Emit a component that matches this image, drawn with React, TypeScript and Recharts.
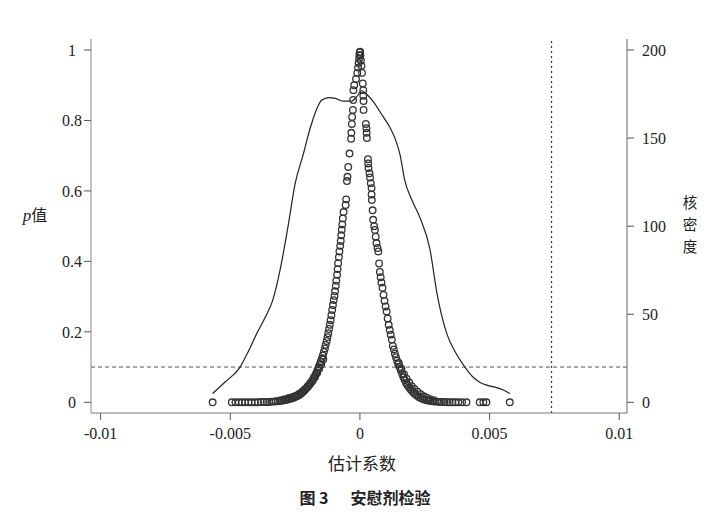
import React from "react";
import {
  ComposedChart,
  XAxis,
  YAxis,
  Scatter,
  Line,
  ReferenceLine,
} from "recharts";

// ---- data ----
const coefficients = [
  // left branch
  -0.00568, -0.00494, -0.0048, -0.00467, -0.00455, -0.00443, -0.0043, -0.00418, -0.00405, -0.00393,
  -0.00382, -0.00371, -0.0036, -0.0035, -0.00341, -0.00332, -0.00324, -0.00316, -0.00308, -0.003,
  -0.00293, -0.00285, -0.00278, -0.0027, -0.00263, -0.00256, -0.0025, -0.00244, -0.00238, -0.00232,
  -0.00226, -0.0022, -0.00215, -0.0021, -0.00205, -0.002, -0.00195, -0.0019, -0.00185, -0.0018,
  -0.00176, -0.00171, -0.00167, -0.00163, -0.00159, -0.00155, -0.00151, -0.00147, -0.00143, -0.00139,
  -0.00135, -0.00132, -0.00128, -0.00125, -0.00122, -0.00119, -0.00116, -0.00113, -0.0011, -0.00107,
  -0.00104, -0.00101, -0.00098, -0.00096, -0.00093, -0.00091, -0.00088, -0.00086, -0.00084, -0.00081,
  -0.00079, -0.00076, -0.00074, -0.00072, -0.0007, -0.00068, -0.00066, -0.00063, -0.00055, -0.00053,
  -0.0005, -0.00048, -0.00045, -0.0004, -0.00034, -0.00033, -0.00031, -0.0003, -0.00027, -0.00026,
  -0.00025, -0.00022, -0.00015, -0.0001, -0.00007, -0.00005, -0.00003, -0.00002, -0.00001,
  // left branch, overlapping draws in the dense lower part
  -0.00304, -0.00289, -0.00274, -0.0026, -0.00247, -0.00235, -0.00223, -0.00212, -0.00202, -0.00192,
  -0.00182, -0.00173, -0.00165, -0.00157, -0.00149, -0.00141,
  // right branch
  0.00001, 0.00002, 0.00004, 0.00006, 0.00008, 0.00011, 0.00013, 0.00013, 0.00014, 0.00014,
  0.00023, 0.00025, 0.00026, 0.00027, 0.00031, 0.00032, 0.00033, 0.00037, 0.00039, 0.00042,
  0.00045, 0.00045, 0.00046, 0.00049, 0.00051, 0.00055, 0.00058, 0.00061, 0.00064, 0.00068,
  0.00071, 0.00074, 0.00077, 0.0008, 0.00083, 0.00087, 0.00091, 0.00095, 0.00099, 0.00103,
  0.00107, 0.00111, 0.00115, 0.00119, 0.00123, 0.00127, 0.00131, 0.00135, 0.00139, 0.00143,
  0.00148, 0.00153, 0.00158, 0.00163, 0.00168, 0.00173, 0.00178, 0.00183, 0.00189, 0.00195,
  0.00201, 0.00207, 0.00213, 0.0022, 0.00227, 0.00234, 0.00241, 0.00248, 0.00256, 0.00264,
  0.00272, 0.0028, 0.00289, 0.00298, 0.00307, 0.00316, 0.00326, 0.00336, 0.00346, 0.00357,
  0.00368, 0.0038, 0.00394, 0.00411, 0.00462, 0.00476, 0.00488, 0.00578,
  // right branch, overlapping draws in the dense lower part
  0.0015, 0.0016, 0.0017, 0.0018, 0.0019, 0.002, 0.0021, 0.00222, 0.00234, 0.00246,
  0.00258, 0.0027, 0.00284,
];

const pValues = [
  // left branch
  0, 0, 0, 0, 0, 0, 0, 0, 0, 0,
  0.001, 0.001, 0.001, 0.001, 0.002, 0.002, 0.003, 0.003, 0.004, 0.005,
  0.006, 0.007, 0.008, 0.01, 0.011, 0.013, 0.015, 0.017, 0.019, 0.022,
  0.025, 0.029, 0.033, 0.037, 0.041, 0.045, 0.05, 0.055, 0.06, 0.066,
  0.072, 0.078, 0.085, 0.092, 0.1, 0.107, 0.115, 0.124, 0.133, 0.143,
  0.153, 0.163, 0.174, 0.185, 0.196, 0.208, 0.22, 0.233, 0.247, 0.262,
  0.276, 0.29, 0.302, 0.315, 0.331, 0.345, 0.362, 0.378, 0.395, 0.412,
  0.428, 0.444, 0.458, 0.474, 0.49, 0.505, 0.522, 0.54, 0.56, 0.576,
  0.628, 0.64, 0.668, 0.706, 0.748, 0.765, 0.79, 0.81, 0.83, 0.858,
  0.886, 0.9, 0.918, 0.935, 0.95, 0.963, 0.975, 0.985, 0.993,
  // left branch, dense part
  0.006, 0.009, 0.012, 0.015, 0.019, 0.024, 0.03, 0.037, 0.045, 0.053,
  0.062, 0.072, 0.083, 0.095, 0.108, 0.122,
  // right branch
  0.995, 0.985, 0.97, 0.955, 0.935, 0.905, 0.886, 0.87, 0.855, 0.83,
  0.79, 0.778, 0.765, 0.75, 0.69, 0.678, 0.665, 0.65, 0.638, 0.622,
  0.608, 0.59, 0.574, 0.545, 0.518, 0.5, 0.489, 0.47, 0.452, 0.438,
  0.428, 0.394, 0.37, 0.355, 0.34, 0.325, 0.305, 0.288, 0.272, 0.258,
  0.238, 0.22, 0.205, 0.192, 0.178, 0.16, 0.15, 0.138, 0.128, 0.118,
  0.108, 0.1, 0.09, 0.08, 0.071, 0.063, 0.055, 0.049, 0.043, 0.037,
  0.032, 0.027, 0.023, 0.019, 0.015, 0.012, 0.01, 0.008, 0.006, 0.005,
  0.004, 0.003, 0.002, 0.002, 0.001, 0.001, 0.001, 0, 0, 0,
  0, 0, 0, 0, 0, 0, 0, 0,
  // right branch, dense part
  0.112, 0.095, 0.08, 0.067, 0.056, 0.046, 0.038, 0.03, 0.023, 0.017,
  0.013, 0.009, 0.006,
];

const densityX = [
  -0.00568, -0.0052, -0.00462, -0.0043, -0.00398, -0.00366, -0.00336, -0.00308, -0.00277, -0.0025,
  -0.00218, -0.00193, -0.00168, -0.00148, -0.0012, -0.00095, -0.00065, -0.00032, -0.00012, 0.00007,
  0.00025, 0.0005, 0.0009, 0.00116, 0.00135, 0.00154, 0.00173, 0.002, 0.00231, 0.0027,
  0.00297, 0.00335, 0.0037, 0.00405, 0.00435, 0.00462, 0.00495, 0.00528, 0.00555, 0.00578,
];
const densityY = [
  5, 11.5, 20, 29, 39, 48, 58, 75, 100, 124,
  141, 155, 166, 171.5, 173, 172.5, 171, 171, 173.5, 177,
  175, 171, 162, 156, 150, 141, 126, 115, 105, 87,
  62, 39, 28, 20, 14.5, 11.4, 9.5, 8.3, 6.8, 5,
];

const xTicks = [-0.01, -0.005, 0, 0.005, 0.01];
const pTicks = [0, 0.2, 0.4, 0.6, 0.8, 1];
const densityTicks = [0, 50, 100, 150, 200];
const pThreshold = 0.1;
const trueEstimate = 0.00739;

const scatterData = coefficients.map((x, i) => ({ x, p: pValues[i] }));
const densityData = densityX.map((x, i) => ({ x, d: densityY[i] }));

const SERIF = "'Liberation Serif', 'Times New Roman', serif";
const CJK = "'Noto Sans CJK SC', sans-serif";

const tickStyle = { fontSize: 16, fontFamily: SERIF, fill: "#222" };

const LeftTick = (props: any) => {
  const { x, y, payload } = props;
  return (
    <text x={x} y={y} dy="0.355em" textAnchor="middle" style={tickStyle}>
      {String(payload.value)}
    </text>
  );
};

const Circle = (props: any) => {
  const { cx, cy } = props;
  if (cx == null || cy == null) return null;
  return <circle cx={cx} cy={cy} r={3.3} fill="none" stroke="#333" strokeWidth={1.3} />;
};

const center: React.CSSProperties = {
  position: "absolute",
  transform: "translate(-50%, -50%)",
  whiteSpace: "nowrap",
  lineHeight: 1,
  color: "#222",
};

const vChar: React.CSSProperties = {
  ...center,
  left: 682,
  fontSize: 14.5,
  fontFamily: CJK,
  lineHeight: "15px",
  height: 15,
};

export default function App() {
  return (
    <div style={{ position: "relative", width: 708, height: 516 }}>
      <ComposedChart
        width={708}
        height={516}
        margin={{ top: 31, right: 0, left: 0, bottom: 0 }}
      >
        <XAxis
          dataKey="x"
          type="number"
          domain={[-0.01037, 0.0103]}
          allowDataOverflow
          ticks={xTicks}
          height={111}
          tickSize={7}
          tickMargin={8}
          tick={tickStyle}
          axisLine={{ stroke: "#777" }}
          tickLine={{ stroke: "#555" }}
        />
        <YAxis
          yAxisId="p"
          orientation="left"
          type="number"
          domain={[-0.0304, 1.0312]}
          allowDataOverflow
          ticks={pTicks}
          width={83}
          tickSize={7}
          tickMargin={12}
          tick={<LeftTick />}
          axisLine={{ stroke: "#888" }}
          tickLine={{ stroke: "#555" }}
        />
        <YAxis
          yAxisId="d"
          orientation="right"
          type="number"
          domain={[-6.07, 206.25]}
          allowDataOverflow
          ticks={densityTicks}
          width={89}
          tickSize={7}
          tickMargin={8}
          tick={tickStyle}
          axisLine={{ stroke: "#666" }}
          tickLine={{ stroke: "#555" }}
        />
        <ReferenceLine yAxisId="p" y={pThreshold} stroke="#555" strokeDasharray="4 3" />
        <ReferenceLine yAxisId="p" x={trueEstimate} stroke="#333" strokeDasharray="2 3" strokeWidth={1.2} />
        <Line
          yAxisId="d"
          data={densityData}
          dataKey="d"
          type="monotone"
          stroke="#222"
          strokeWidth={1.2}
          dot={false}
          activeDot={false}
          isAnimationActive={false}
        />
        <Scatter
          yAxisId="p"
          data={scatterData}
          dataKey="p"
          shape={<Circle />}
          isAnimationActive={false}
        />
      </ComposedChart>

      <div style={{ ...center, left: 27, top: 207, fontSize: 16 }}>
        <span style={{ fontFamily: SERIF, fontStyle: "italic", fontSize: 17 }}>p</span>
        <span style={{ fontFamily: CJK }}>值</span>
      </div>
      <div style={{ ...vChar, top: 193 }}>核</div>
      <div style={{ ...vChar, top: 215 }}>密</div>
      <div style={{ ...vChar, top: 237 }}>度</div>
      <div style={{ ...center, left: 354, top: 454, fontSize: 17, fontFamily: CJK }}>估计系数</div>
      <div style={{ ...center, left: 357, top: 489, fontSize: 16, fontFamily: CJK, fontWeight: 700 }}>
        图 3<span style={{ marginLeft: 22 }}>安慰剂检验</span>
      </div>
    </div>
  );
}
